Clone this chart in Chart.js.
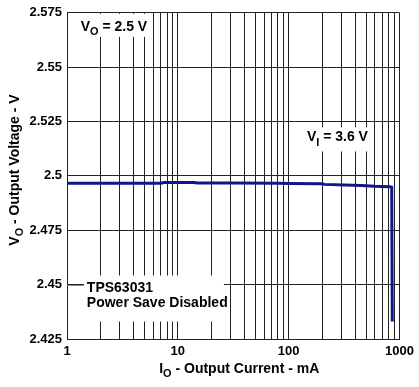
<!DOCTYPE html>
<html>
<head>
<meta charset="utf-8">
<script src="https://cdn.jsdelivr.net/npm/chart.js@4.4.0/dist/chart.umd.min.js"></script>
<style>
  html, body { margin: 0; padding: 0; background: #fff; }
  #wrap { width: 419px; height: 387px; }
</style>
</head>
<body>
<div id="wrap"><canvas id="myChart" width="419" height="387"></canvas></div>
<script>
// output current (mA) and output voltage (V)
const corriente = [1, 2, 4, 7, 7.5, 10, 14, 15, 30, 80, 100, 200, 210, 320, 450, 600, 820, 850, 860];
const voltaje = [2.4966, 2.4966, 2.4966, 2.4966, 2.4970, 2.4970, 2.4970, 2.4967, 2.4967, 2.4966, 2.4965, 2.4964, 2.4961, 2.4958, 2.4956, 2.4952, 2.4950, 2.4948, 2.4331];
const ticksY = [2.425, 2.45, 2.475, 2.5, 2.525, 2.55, 2.575];
const ticksX = [1, 2, 3, 4, 5, 6, 7, 8, 9, 10, 20, 30, 40, 50, 60, 70, 80, 90, 100, 200, 300, 400, 500, 600, 700, 800, 900, 1000];
const etiquetasX = [1, 10, 100, 1000];

const fuente = "'Liberation Sans', Arial, sans-serif";

function textoRico(ctx, partes, x, y, size) {
    let pos = x;
    partes.forEach((p) => {
        const s = p.sub ? size * 0.78 : size;
        ctx.font = `bold ${s}px ${fuente}`;
        ctx.fillText(p.t, pos, p.sub ? y + size * 0.3 : y);
        pos += ctx.measureText(p.t).width;
    });
}
function anchoRico(ctx, partes, size) {
    let w = 0;
    partes.forEach((p) => {
        const s = p.sub ? size * 0.78 : size;
        ctx.font = `bold ${s}px ${fuente}`;
        w += ctx.measureText(p.t).width;
    });
    return w;
}

const notas = {
    id: "notas",
    afterDatasetsDraw(chart) {
        const ctx = chart.ctx;
        const x = chart.scales.x;
        const y = chart.scales.y;
        ctx.save();
        ctx.fillStyle = "#fff";
        // boxes covering the grid
        ctx.fillRect(x.left + 1, y.top + 1, 81, 23);
        ctx.fillRect(x.getPixelForValue(125), y.getPixelForValue(2.5223), 72, 24);
        ctx.fillRect(x.getPixelForValue(1.42), y.getPixelForValue(2.4542), 140, 46);
        ctx.strokeStyle = "#888";
        ctx.lineWidth = 1;
        ctx.beginPath();
        ctx.moveTo(x.left, Math.round(y.getPixelForValue(2.45)) + 0.5);
        ctx.lineTo(x.getPixelForValue(1.42), Math.round(y.getPixelForValue(2.45)) + 0.5);
        ctx.stroke();
        ctx.fillStyle = "#000";
        ctx.textBaseline = "alphabetic";
        textoRico(ctx, [{ t: "V" }, { t: "O", sub: true }, { t: " = 2.5 V" }], x.getPixelForValue(1.33), y.getPixelForValue(2.5667), 14);
        textoRico(ctx, [{ t: "V" }, { t: "I", sub: true }, { t: " = 3.6 V" }], x.getPixelForValue(146), y.getPixelForValue(2.5159), 14);
        ctx.font = `bold 14px ${fuente}`;
        ctx.fillText("TPS63031", x.getPixelForValue(1.51), y.getPixelForValue(2.4466));
        ctx.fillText("Power Save Disabled", x.getPixelForValue(1.51), y.getPixelForValue(2.4396));
        // axis titles
        const tx = [{ t: "I" }, { t: "O", sub: true }, { t: " - Output Current - mA" }];
        const wx = anchoRico(ctx, tx, 14);
        textoRico(ctx, tx, (x.left + x.right) / 2 + 6 - wx / 2, 372.5, 14);
        const ty = [{ t: "V" }, { t: "O", sub: true }, { t: " - Output Voltage - V" }];
        const wy = anchoRico(ctx, ty, 14);
        ctx.translate(18.5, 170);
        ctx.rotate(-Math.PI / 2);
        textoRico(ctx, ty, -wy / 2, 0, 14);
        ctx.restore();
    }
};

function cargarGrafico() {
    const puntos = corriente.map((c, i) => ({ x: c, y: voltaje[i] }));
    const config = {
        type: "line",
        data: {
            datasets: [{
                data: puntos,
                borderColor: "#14148a",
                borderWidth: 3,
                pointRadius: 0,
                tension: 0,
                fill: false
            }]
        },
        options: {
            responsive: false,
            animation: false,
            events: [],
            layout: { padding: { top: 6, right: 19, left: 0, bottom: 0 } },
            plugins: { legend: { display: false }, tooltip: { enabled: false } },
            scales: {
                x: {
                    type: "logarithmic",
                    min: 1,
                    max: 1000,
                    afterBuildTicks: (s) => { s.ticks = ticksX.map((v) => ({ value: v })); },
                    afterFit: (s) => { s.height = 48; },
                    grid: { color: "#222", lineWidth: 1, drawTicks: false },
                    border: { color: "#222", width: 1 },
                    ticks: {
                        autoSkip: false,
                        maxRotation: 0,
                        padding: 5,
                        color: "#000",
                        font: { family: fuente, size: 13, weight: "bold" },
                        callback: (v) => (etiquetasX.includes(v) ? String(v) : "")
                    }
                },
                y: {
                    min: 2.425,
                    max: 2.575,
                    afterBuildTicks: (s) => { s.ticks = ticksY.map((v) => ({ value: v })); },
                    afterFit: (s) => { s.width = 67; },
                    grid: { color: "#222", lineWidth: 1, drawTicks: false },
                    border: { color: "#222", width: 1 },
                    ticks: {
                        padding: 5,
                        color: "#000",
                        font: { family: fuente, size: 13, weight: "bold" },
                        callback: (v) => String(parseFloat(v.toFixed(3)))
                    }
                }
            }
        },
        plugins: [notas]
    };
    new Chart(document.getElementById("myChart"), config);
}
cargarGrafico();
</script>
</body>
</html>
